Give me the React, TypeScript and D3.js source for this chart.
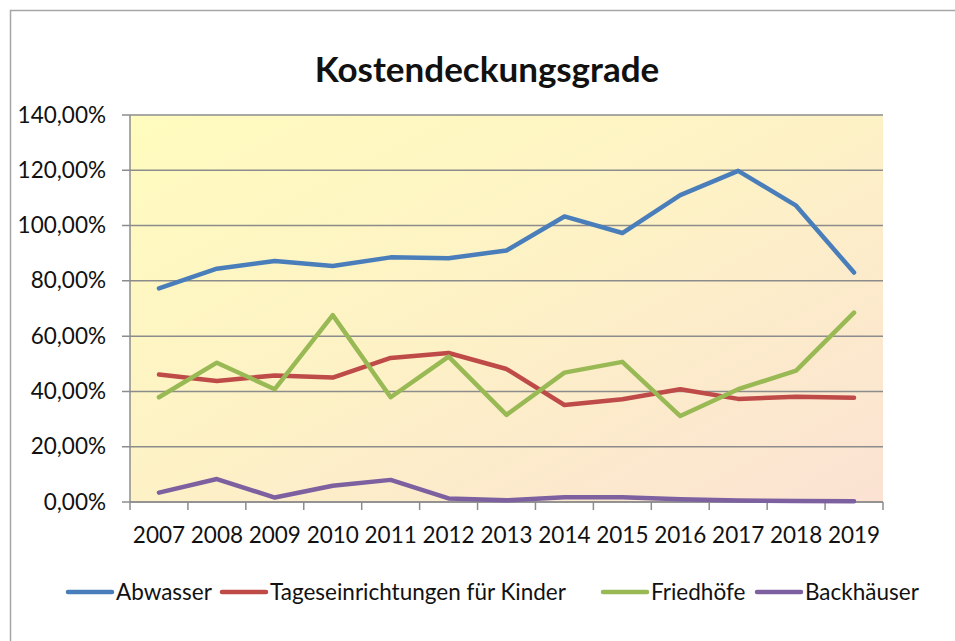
import { useMemo } from "react";
import * as d3 from "d3";

const years = ["2007", "2008", "2009", "2010", "2011", "2012", "2013", "2014", "2015", "2016", "2017", "2018", "2019"];
const abwasser = [77.3, 84.4, 87.2, 85.4, 88.5, 88.2, 91.0, 103.3, 97.3, 111.0, 119.8, 107.2, 83.0];
const tagesKinder = [46.1, 43.8, 45.8, 45.0, 52.1, 53.9, 48.1, 35.1, 37.2, 40.8, 37.3, 38.1, 37.7];
const friedhoefe = [37.9, 50.4, 40.8, 67.6, 37.9, 52.6, 31.5, 46.8, 50.7, 31.1, 40.8, 47.5, 68.5];
const backhaeuser = [3.4, 8.3, 1.6, 5.9, 8.0, 1.3, 0.6, 1.7, 1.7, 1.0, 0.5, 0.4, 0.3];
const yTicks = [0, 20, 40, 60, 80, 100, 120, 140];

const seriesNames = ["Abwasser", "Tageseinrichtungen für Kinder", "Friedhöfe", "Backhäuser"];
const seriesColors = ["#4A7EBB", "#BE4B48", "#98B954", "#7D60A0"];
const seriesValues = [abwasser, tagesKinder, friedhoefe, backhaeuser];

// legend swatch start x per item
const legendX = [68, 222, 603, 757];

const font = "Lato, 'Open Sans', sans-serif";

export default function App() {
  const width = 955;
  const height = 641;
  const plot = { left: 130, right: 883, top: 115, bottom: 502 };

  const x = useMemo(
    () => d3.scaleBand<string>().domain(years).range([plot.left, plot.right]).padding(0),
    []
  );
  const y = useMemo(() => d3.scaleLinear().domain([0, 140]).range([plot.bottom, plot.top]), []);

  const cx = (yr: string) => (x(yr) ?? 0) + x.bandwidth() / 2;
  const line = d3
    .line<number>()
    .x((_, i) => cx(years[i]))
    .y((d) => y(d));

  const fmt = (v: number) => v.toFixed(2).replace(".", ",") + "%";
  const tickXs = [...years.map((yr) => x(yr) ?? 0), plot.right];

  return (
    <svg
      width={width}
      height={height}
      style={{ position: "absolute", left: 0, top: 0, background: "#fff" }}
    >
      <defs>
        <linearGradient id="bg" x1="0" y1="0" x2="1" y2="1">
          <stop offset="0%" stopColor="#FFFCBE" />
          <stop offset="50%" stopColor="#FDF1C6" />
          <stop offset="100%" stopColor="#FBE2D3" />
        </linearGradient>
      </defs>

      <rect x={10.5} y={10.5} width={1000} height={1000} fill="#fff" stroke="#A6A6A6" strokeWidth={1.5} />

      <text
        x={487}
        y={82}
        textAnchor="middle"
        fontFamily={font}
        fontWeight={700}
        fontSize={35}
        fill="#111"
      >
        Kostendeckungsgrade
      </text>

      <rect
        x={plot.left}
        y={plot.top}
        width={plot.right - plot.left}
        height={plot.bottom - plot.top}
        fill="url(#bg)"
      />

      {/* gridlines + y ticks */}
      {yTicks.map((t) => (
        <g key={t}>
          <line x1={122} x2={plot.right} y1={y(t)} y2={y(t)} stroke="#8C8C8C" strokeWidth={1.5} />
          <text
            x={106}
            y={y(t) + 7.5}
            textAnchor="end"
            fontFamily={font}
            fontSize={22.5}
            fill="#111"
          >
            {fmt(t)}
          </text>
        </g>
      ))}

      {/* axes */}
      <line x1={plot.left} x2={plot.left} y1={plot.top} y2={plot.bottom} stroke="#8C8C8C" strokeWidth={1.5} />
      <line x1={plot.left} x2={plot.right} y1={plot.bottom} y2={plot.bottom} stroke="#8C8C8C" strokeWidth={1.5} />
      {tickXs.map((tx, i) => (
        <line key={i} x1={tx} x2={tx} y1={plot.bottom} y2={plot.bottom + 8} stroke="#8C8C8C" strokeWidth={1.5} />
      ))}
      {years.map((yr) => (
        <text
          key={yr}
          x={cx(yr)}
          y={543}
          textAnchor="middle"
          fontFamily={font}
          fontSize={22.5}
          fill="#111"
        >
          {yr}
        </text>
      ))}

      {/* series */}
      {seriesValues.map((vals, i) => (
        <path
          key={seriesNames[i]}
          d={line(vals) ?? ""}
          fill="none"
          stroke={seriesColors[i]}
          strokeWidth={4.5}
          strokeLinejoin="round"
          strokeLinecap="round"
        />
      ))}

      {/* legend */}
      {seriesNames.map((name, i) => (
        <g key={name} transform={`translate(${legendX[i]},592)`}>
          <line x1={0} x2={44} y1={0} y2={0} stroke={seriesColors[i]} strokeWidth={4.5} strokeLinecap="round" />
          <text x={48} y={7.8} fontFamily={font} fontSize={22.5} fill="#111">
            {name}
          </text>
        </g>
      ))}
    </svg>
  );
}
